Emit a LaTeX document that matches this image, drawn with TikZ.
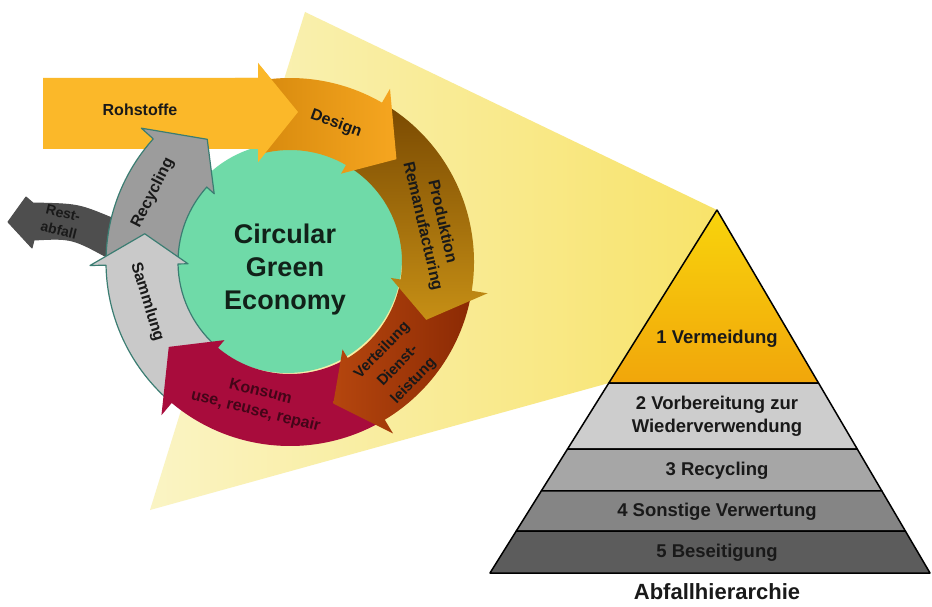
\documentclass[tikz,border=0pt]{standalone}
\usepackage{fontspec}
\setmainfont{Liberation Sans}
\usetikzlibrary{calc}

\definecolor{spotA}{HTML}{FAF4C4}
\definecolor{spotB}{HTML}{F8E36A}
\definecolor{eco}{HTML}{6FDAA8}
\definecolor{rohst}{HTML}{FBB829}
\definecolor{desA}{HTML}{D4870C}
\definecolor{desB}{HTML}{F6A620}
\definecolor{prodA}{HTML}{7A4A02}
\definecolor{prodB}{HTML}{C68F15}
\definecolor{vertA}{HTML}{B5460E}
\definecolor{vertB}{HTML}{8C2A04}
\definecolor{kons}{HTML}{A80C3C}
\definecolor{samm}{HTML}{C9C9C9}
\definecolor{recy}{HTML}{9C9C9C}
\definecolor{rest}{HTML}{4E4E4E}
\definecolor{loopedge}{HTML}{3B7D72}
\definecolor{pyrA}{HTML}{F8D40C}
\definecolor{pyrB}{HTML}{F1A60B}
\definecolor{layB}{HTML}{CDCDCD}
\definecolor{layC}{HTML}{A6A6A6}
\definecolor{layD}{HTML}{858585}
\definecolor{layE}{HTML}{5C5C5C}

% ring arrow: style, tail, notch, back of head, tip (angles clockwise from east)
\newcommand{\ringarrow}[5]{%
  \draw[#1] ({#2}:112) -- ({#3}:148) -- ({#2}:184)
    arc[start angle=#2, end angle=#4, radius=184] -- ({#4}:200)
    -- ({#5}:148) -- ({#4}:102) -- ({#4}:112)
    arc[start angle=#4, end angle=#2, radius=112] -- cycle;}

\begin{document}
\begin{tikzpicture}[x=1pt, y=-1pt]
		\tikzset{lbl/.style = {font=\bfseries\fontsize{16}{20}\selectfont, align=center, inner sep=0pt, text=black!90}}
		\tikzset{plbl/.style = {font=\bfseries\fontsize{18.5}{23}\selectfont, align=center, inner sep=0pt, text=black!90}}
		\tikzset{layer/.style = {draw=black, line width=1.5pt, line join=round}}
		\tikzset{loop/.style = {draw=loopedge, line width=1.2pt, line join=round}}
		\tikzset{plain/.style = {draw=none}}
		
		\useasboundingbox (0,0) rectangle (932,607);
		\fill[white] (0,0) rectangle (932,607);
		
		\shade[left color=spotA, right color=spotB] (150,510) -- (305,12) -- (717,210) -- (609,383) -- cycle;
		
		\coordinate (apex) at (717,210);
		\coordinate   (bl) at (490,573);
		\coordinate   (br) at (930,573);
		
		\draw[layer, top color=pyrA, bottom color=pyrB] (apex) -- ($(apex)!0.4766!(br)$) -- ($(apex)!0.4766!(bl)$) -- cycle;
		\draw[layer, fill=layB] ($(apex)!0.4766!(bl)$) -- ($(apex)!0.4766!(br)$) -- ($(apex)!0.6584!(br)$) -- ($(apex)!0.6584!(bl)$) -- cycle;
		\draw[layer, fill=layC] ($(apex)!0.6584!(bl)$) -- ($(apex)!0.6584!(br)$) -- ($(apex)!0.7741!(br)$) -- ($(apex)!0.7741!(bl)$) -- cycle;
		\draw[layer, fill=layD] ($(apex)!0.7741!(bl)$) -- ($(apex)!0.7741!(br)$) -- ($(apex)!0.8843!(br)$) -- ($(apex)!0.8843!(bl)$) -- cycle;
		\draw[layer, fill=layE] ($(apex)!0.8843!(bl)$) -- ($(apex)!0.8843!(br)$) -- (br) -- (bl) -- cycle;
		
		\fill[eco] (287,258) circle[radius=115];
		
		\fill[rohst] (43,78) -- (258,78) -- (258,63) -- (298,112) -- (258,162) -- (258,149) -- (43,149) -- cycle;
		
		\draw[rest, fill=rest, line width=1pt, line join=round] (112,218) .. controls (78,204) .. (33,203) -- (26,197) -- (8,222) -- (32,248) -- (34,240) .. controls (72,238) .. (112,260) -- cycle;
		
		\begin{scope}[shift={(290,262)}]
		\ringarrow{loop, fill=recy}{181}{189}{222}{236}
		\ringarrow{loop, fill=samm}{132}{143}{179}{191}
		\ringarrow{plain, fill=kons}{61}{71}{130}{145}
		\ringarrow{plain, left color=vertA, right color=vertB}{11}{21}{59}{73}
		\ringarrow{plain, top color=prodA, bottom color=prodB}{-58}{-46}{9}{23}
		\ringarrow{plain, left color=desA, right color=desB}{-104}{-92}{-60}{-44}
		\end{scope}
		
		\fill[rohst] (235,78) -- (258,78) -- (258,63) -- (298,112) -- (258,162) -- (258,149) -- (235,149) -- cycle;
		
		\node[lbl]              (rohstoffe) at (140,110) {Rohstoffe};
		\node[lbl, rotate=-20]     (design) at (336,124) {Design};
		\node[lbl, rotate=-77] (produktion) at (432,224) {Produktion\\Remanufacturing};
		\node[lbl, rotate=46, font=\bfseries\fontsize{15}{22}\selectfont] (verteilung) at (398,366) {Verteilung\\Dienst-\\leistung};
		\node[lbl, rotate=-14, text=kons!40!black] (konsum) at (258,402) {Konsum\\use, reuse, repair};
		\node[lbl, rotate=-73]   (sammlung) at (147,302) {Sammlung};
		\node[lbl, rotate=63]   (recycling) at (153,193) {Recycling};
		\node[lbl, rotate=-14, font=\bfseries\fontsize{14}{18}\selectfont] (restabfall) at (61,222) {Rest-\\abfall};
		
		\node[lbl, font=\bfseries\fontsize{27}{33}\selectfont, text=eco!15!black] (economy) at (285,270) {Circular\\Green\\Economy};
		
		\node[plbl] (vermeidung) at (717,339) {1 Vermeidung};
		\node[plbl] (vorbereitung) at (717,416) {2 Vorbereitung zur\\Wiederverwendung};
		\node[plbl] (recy3) at (717,471) {3 Recycling};
		\node[plbl] (verwertung) at (717,512) {4 Sonstige Verwertung};
		\node[plbl] (beseitigung) at (717,553) {5 Beseitigung};
		\node[plbl, font=\bfseries\fontsize{22}{26}\selectfont] (hierarchie) at (717,592) {Abfallhierarchie};
\end{tikzpicture}
\end{document}
